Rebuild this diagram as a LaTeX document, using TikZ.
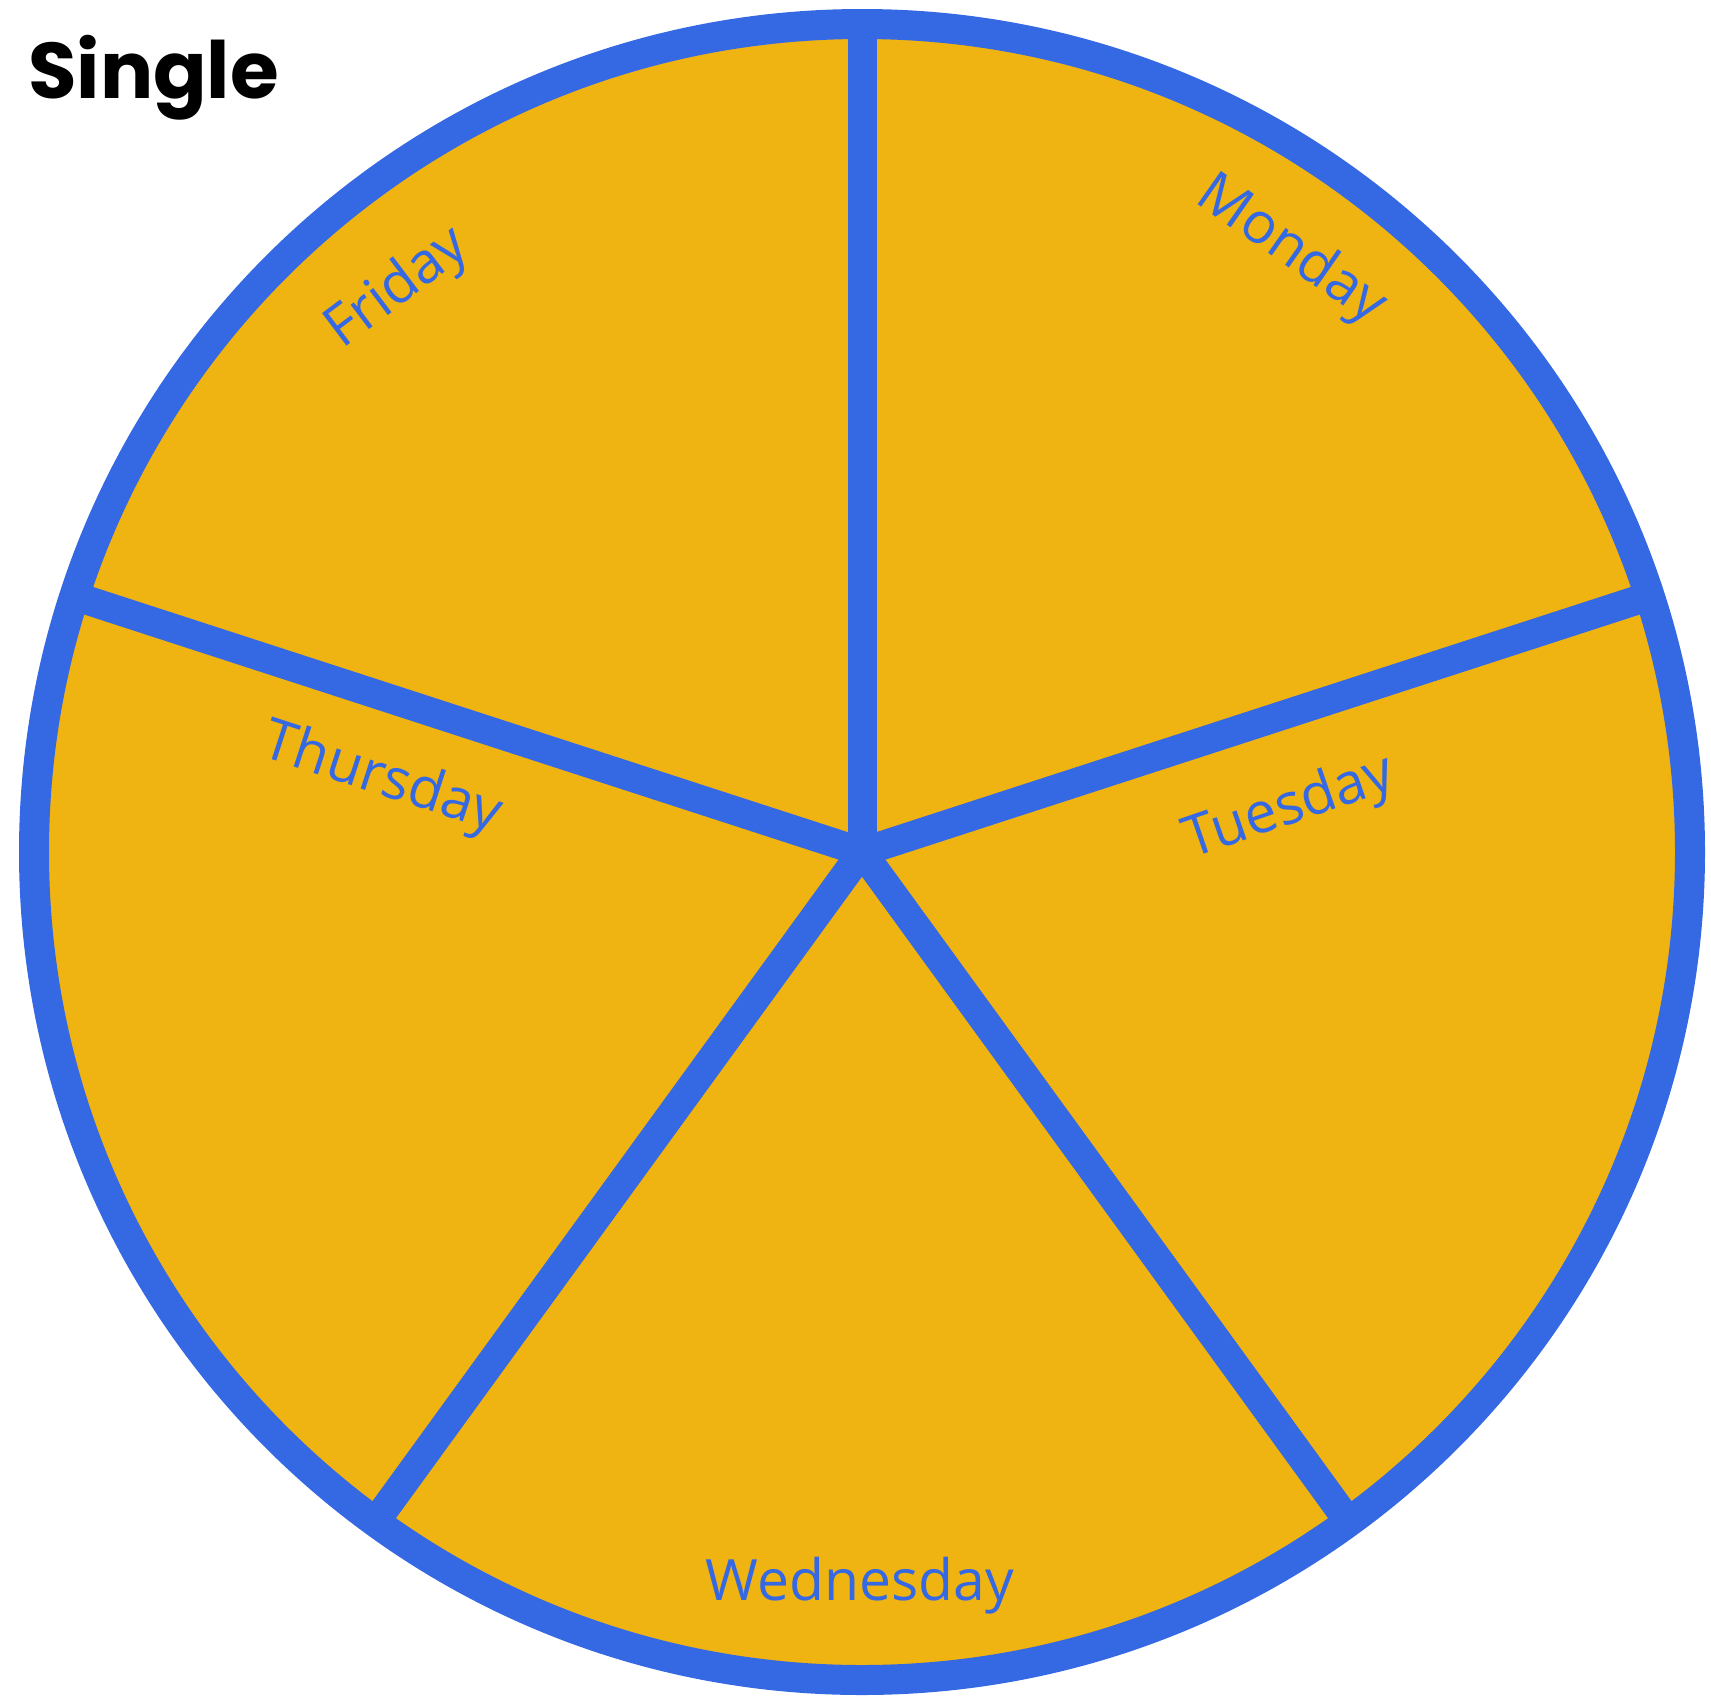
\documentclass[tikz,border=0pt]{standalone}
\usepackage{fontspec}
\usetikzlibrary{calc}
\setmainfont{Open Sans}
\newfontfamily\titlefont{Poppins}
\definecolor{wheelfill}{HTML}{EFB312}
\definecolor{wheelblue}{HTML}{3569E4}
\begin{document}
\begin{tikzpicture}[x=1pt,y=-1pt,
  rim/.style={draw=wheelblue,line width=30pt,fill=wheelfill},
  spoke/.style={draw=wheelblue,line width=29pt},
  daylabel/.style={text=wheelblue,font=\fontsize{57}{66}\selectfont,inner sep=0pt},
  titlelabel/.style={text=black,font=\titlefont\bfseries\fontsize{79}{90}\selectfont,inner sep=0pt}]
\useasboundingbox (0,0) rectangle (1711,1695);
\coordinate (c) at (862,852);
\draw[rim] (c) circle[radius=828];
\foreach \a/\n in {90/m,18/t,-54/w,-126/h,162/f}{
  \coordinate (\n) at ($(c)+(\a:828 and -828)$);
}
\foreach \n in {m,t,w,h,f}{\draw[spoke] (c) -- (\n);}
\node[daylabel,rotate=-35] (mon) at (1291,251) {Monday};
\node[daylabel,rotate=19] (tue) at (1290,809) {Tuesday};
\node[daylabel] (wed) at (860,1586) {Wednesday};
\node[daylabel,rotate=-18] (thu) at (382,780) {Thursday};
\node[daylabel,rotate=37] (fri) at (398,289) {Friday};
\node[titlelabel,anchor=base west] (title) at (28,98) {Single};
\end{tikzpicture}
\end{document}
